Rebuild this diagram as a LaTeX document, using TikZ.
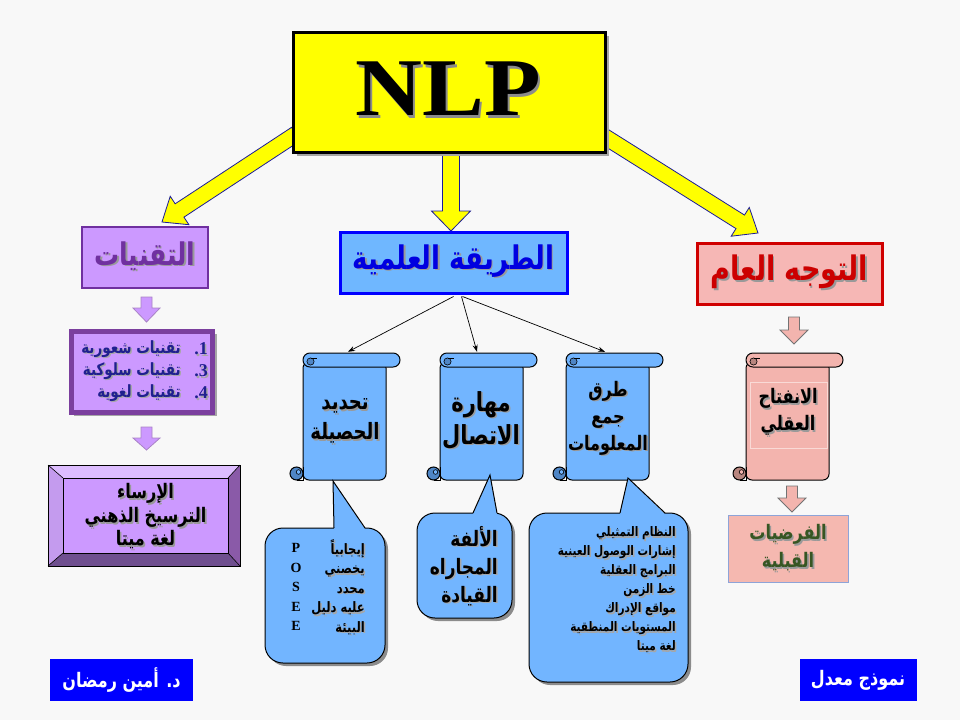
\documentclass[tikz,border=0pt]{standalone}
\usepackage{fontspec}
\setmainfont{Liberation Serif}
\newfontfamily\arabicfont[Script=Arabic]{DejaVu Sans}
\TeXXeTstate=1
\usetikzlibrary{calc,arrows.meta}
\definecolor{bg}{HTML}{F8F8F8}
\definecolor{nlpY}{HTML}{FFFF00}
\definecolor{arrowBlue}{HTML}{1A1A99}
\definecolor{purpleFill}{HTML}{CC99FF}
\definecolor{purpleDark}{HTML}{7030A0}
\definecolor{listBorder}{HTML}{7B3F9E}
\definecolor{listText}{HTML}{20208F}
\definecolor{bevTop}{HTML}{DDBDFF}
\definecolor{bevLeft}{HTML}{C49BEE}
\definecolor{bevRight}{HTML}{8A5AA8}
\definecolor{bevBottom}{HTML}{6F4F8F}
\definecolor{methodFill}{HTML}{6FB7FF}
\definecolor{methodBorder}{HTML}{0000FF}
\definecolor{methodText}{HTML}{0000E0}
\definecolor{scrollBlue}{HTML}{72B5FF}
\definecolor{curlBlue}{HTML}{4F86C6}
\definecolor{pinkFill}{HTML}{F6B7B5}
\definecolor{redBorder}{HTML}{D00000}
\definecolor{redText}{HTML}{CC0000}
\definecolor{pinkScroll}{HTML}{F3B4AE}
\definecolor{curlPink}{HTML}{B8867F}
\definecolor{lastFill}{HTML}{F5B8B0}
\definecolor{lastBorder}{HTML}{8EA4D8}
\definecolor{greenText}{HTML}{375623}
\definecolor{labelBlue}{HTML}{0000FF}
\newcommand\arr[1]{\scalebox{1}[1.25]{\beginR #1\endR}}
\newcommand\afont[2]{\arabicfont\bfseries\fontsize{#1}{#2}\selectfont}
% block arrow: A, B, half shaft, half head, head length, style
\newcommand\barrow[6]{%
  \path ($(#2)!#5!(#1)$) coordinate (bh);
  \filldraw[#6] ($(#1)!#3!90:(#2)$) -- ($(bh)!#3!90:(#2)$) -- ($(bh)!#4!90:(#2)$) -- (#2)
     -- ($(bh)!#4!-90:(#2)$) -- ($(bh)!#3!-90:(#2)$) -- ($(#1)!#3!-90:(#2)$) -- cycle;}
% shadowed text: name, position, colour, font, content
\newcommand\shtext[5]{%
  \node[text=black!40, font={#4}, align=center, inner sep=0] at ($(#2)+(1.6,1.6)$) {#5};
  \node[text=#3, font={#4}, align=center, inner sep=0] (#1) at (#2) {#5};}
% scroll: left x, fill, curl colour, name
\newcommand\scrollshape[4]{%
  \filldraw[fill=#2, draw=black, line width=1, rounded corners=6] (#1,362) rectangle ({#1+83},480);
  \filldraw[fill=#3, draw=black, line width=1] ({#1-6.5},473.5) circle (6.5);
  \filldraw[fill=#2, draw=black, line width=0.6] ({#1-4.5},472) circle (2.3);
  \draw[black, line width=1] (#1,467) -- (#1,480) -- ({#1-6.5},480);
  \filldraw[fill=#2, draw=black, line width=1, rounded corners=6.9] (#1,353) rectangle ({#1+97},367);
  \filldraw[fill=#3, draw=black, line width=0.6] ({#1+7.5},361.5) circle (3.6);
  \draw[black, line width=0.8] ({#1+7.5},357.9) -- ({#1+14},357.9);
  \node[inner sep=0, minimum width=110, minimum height=127] (#4) at ({#1+42},416.5) {};}
% callout: x1,y1,x2,y2, tail base left x, tail base right x, tip x, tip y, name
\newcommand\callout[9]{%
  \fill[black!45, rounded corners=18] ({#1+3},{#2+3}) rectangle ({#3+3},{#4+3});
  \filldraw[fill=scrollBlue, draw=black, line width=1, rounded corners=18] (#1,#2) rectangle (#3,#4);
  \fill[scrollBlue] (#5,{#2+1}) -- (#7,#8) -- (#6,{#2+1}) -- cycle;
  \draw[black, line width=1, line join=miter] (#5,#2) -- (#7,#8) -- (#6,#2);
  \node[inner sep=0, minimum width={#3-#1}, minimum height={#4-#2}] (#9) at ({(#1+#3)/2},{(#2+#4)/2}) {};}
\begin{document}
\begin{tikzpicture}[x=1pt,y=-1pt]
\fill[bg] (0,0) rectangle (960,720);
\useasboundingbox (0,0) rectangle (960,720);

% ---------- NLP and yellow arrows ----------
\coordinate (ya1) at (296,134); \coordinate (yb1) at (162,222);
\coordinate (ya2) at (451,150); \coordinate (yb2) at (451,231);
\coordinate (ya3) at (602,135); \coordinate (yb3) at (758,233);
\barrow{ya1}{yb1}{8pt}{17pt}{21pt}{fill=nlpY, draw=arrowBlue, line width=0.8}
\barrow{ya2}{yb2}{8.5pt}{19.5pt}{20pt}{fill=nlpY, draw=arrowBlue, line width=0.8}
\barrow{ya3}{yb3}{8pt}{17pt}{21pt}{fill=nlpY, draw=arrowBlue, line width=0.8}
\fill[black!35] (297,36) rectangle (609,156);
\node[draw=black, line width=3, fill=nlpY, minimum width=312, minimum height=120, inner sep=0] (nlp) at (449,92) {};
\node[text=black!45, font=\bfseries\fontsize{82}{82}\selectfont, inner sep=0] at (450.5,91.5) {\scalebox{1.13}[1]{NLP}};
\node[font=\bfseries\fontsize{82}{82}\selectfont, inner sep=0] (nlpt) at (448,89) {\scalebox{1.13}[1]{NLP}};

% ---------- headings ----------
\node[draw=purpleDark, line width=2.5, fill=purpleFill, minimum width=126, minimum height=61, inner sep=0] (tech) at (145,257.5) {};
\shtext{techt}{145,256}{purpleDark}{\afont{25}{28}}{\arr{التقنيات}}

\node[draw=methodBorder, line width=3, fill=methodFill, minimum width=227, minimum height=61, inner sep=0] (method) at (453.5,263) {};
\shtext{methodt}{453.5,261}{methodText}{\afont{26}{30}}{\arr{الطريقة العلمية}}

\node[draw=redBorder, line width=3, fill=pinkFill, minimum width=185, minimum height=61, inner sep=0] (orient) at (789.5,273.5) {};
\shtext{orientt}{789.5,272}{redText}{\afont{27}{30}}{\arr{التوجه العام}}

% ---------- left column ----------
\coordinate (la1) at (146.5,297); \coordinate (lb1) at (146.5,322);
\barrow{la1}{lb1}{5.5pt}{13.5pt}{14pt}{fill=purpleFill, draw=purpleDark!60, line width=0.8}
\fill[black!35] (74,334) rectangle (217,416);
\node[draw=listBorder, line width=5, fill=purpleFill, minimum width=141, minimum height=81, inner sep=0] (list) at (141.5,371.5) {};
\foreach \yy/\num/\txt in {349/1/تقنيات شعورية, 371/3/تقنيات سلوكية, 393/4/تقنيات لغوية}{
  \node[text=black!35, font={\afont{13.5}{14}}, anchor=east, inner sep=0] at (182.5,\yy+1.5) {\arr{\txt}};
  \node[text=listText, font={\afont{13.5}{14}}, anchor=east, inner sep=0] at (181,\yy) {\arr{\txt}};
  \node[text=black!35, font=\bfseries\fontsize{18}{18}\selectfont, anchor=east, inner sep=0] at (209.5,\yy+1.5) {.\num};
  \node[text=listText, font=\bfseries\fontsize{18}{18}\selectfont, anchor=east, inner sep=0] at (208,\yy) {.\num};
}
\coordinate (la2) at (146.5,427); \coordinate (lb2) at (146.5,450);
\barrow{la2}{lb2}{5.5pt}{13.5pt}{12pt}{fill=purpleFill, draw=purpleDark!60, line width=0.8}

% bevel box
\fill[bevTop] (48,465) -- (240,465) -- (228,478) -- (63,478) -- cycle;
\fill[bevLeft] (48,465) -- (63,478) -- (63,553) -- (48,566) -- cycle;
\fill[bevRight] (240,465) -- (240,566) -- (228,553) -- (228,478) -- cycle;
\fill[bevBottom] (48,566) -- (63,553) -- (228,553) -- (240,566) -- cycle;
\node[draw=black, line width=0.8, fill=purpleFill, minimum width=165, minimum height=75, inner sep=0] (bevel) at (145.5,515.5) {};
\draw[black, line width=0.8] (48,465) rectangle (240,566);
\draw[black, line width=0.6] (48,465) -- (63,478) (240,465) -- (228,478) (48,566) -- (63,553) (240,566) -- (228,553);
\shtext{bevelt}{145.5,516.5}{black}{\afont{16}{23.5}}{\arr{الإرساء}\\\arr{الترسيخ الذهني}\\\arr{لغة ميتا}}

% ---------- middle: scrolls ----------
\scrollshape{303}{scrollBlue}{curlBlue}{s1}
\scrollshape{440}{scrollBlue}{curlBlue}{s2}
\scrollshape{566}{scrollBlue}{curlBlue}{s3}
\draw[-{Stealth[length=7pt,width=5pt]}, line width=0.7] ($(method.south)+(0,1.5)$) -- ($(s1.north)+(3,-1)$);
\draw[-{Stealth[length=7pt,width=5pt]}, line width=0.7] ($(method.south)+(8,1.5)$) -- ($(s2.north)+(-5,-1)$);
\draw[-{Stealth[length=7pt,width=5pt]}, line width=0.7] ($(method.south)+(9,1.5)$) -- ($(s3.north)+(-3,-1)$);

\shtext{s1t}{345,421}{black}{\afont{18}{30}}{\arr{تحديد}\\\arr{الحصيلة}}
\shtext{s2t}{481,420}{black}{\afont{21}{33}}{\arr{مهارة}\\\arr{الاتصال}}
\shtext{s3t}{608,418}{black}{\afont{16}{27}}{\arr{طرق}\\\arr{جمع}\\\arr{المعلومات}}

% ---------- callouts ----------
\callout{265}{528}{385}{663}{334}{365}{333}{481}{c1}
\callout{417}{513}{512}{618}{473}{497}{490}{475}{c2}
\callout{529}{513}{688}{682}{620}{665}{628}{478}{c3}

\node[text=black!35, font={\afont{11.5}{19.5}}, align=right, anchor=east, inner sep=0] at (366.5,588.5)
  {\arr{إيجابياً}\\\arr{يخصني}\\\arr{محدد}\\\arr{عليه دليل}\\\arr{البيئة}};
\node[font={\afont{11.5}{19.5}}, align=right, anchor=east, inner sep=0] (c1t) at (365,587)
  {\arr{إيجابياً}\\\arr{يخصني}\\\arr{محدد}\\\arr{عليه دليل}\\\arr{البيئة}};
\node[font=\bfseries\fontsize{14}{19.5}\selectfont, align=center, inner sep=0] (pose) at (296,587)
  {P\\O\\S\\E\\E};

\node[text=black!35, font={\afont{17}{28}}, align=right, anchor=east, inner sep=0] at (499.5,567.5)
  {\arr{الألفة}\\\arr{المجاراه}\\\arr{القيادة}};
\node[font={\afont{17}{28}}, align=right, anchor=east, inner sep=0] (c2t) at (498,566)
  {\arr{الألفة}\\\arr{المجاراه}\\\arr{القيادة}};

\node[text=black!35, font={\afont{10.5}{19}}, align=right, anchor=east, inner sep=0] at (677.5,591.5)
  {\arr{النظام التمثيلي}\\\arr{إشارات الوصول العينية}\\\arr{البرامج العقلية}\\\arr{خط الزمن}\\\arr{مواقع الإدراك}\\\arr{المستويات المنطقية}\\\arr{لغة ميتا}};
\node[font={\afont{10.5}{19}}, align=right, anchor=east, inner sep=0] (c3t) at (676,590)
  {\arr{النظام التمثيلي}\\\arr{إشارات الوصول العينية}\\\arr{البرامج العقلية}\\\arr{خط الزمن}\\\arr{مواقع الإدراك}\\\arr{المستويات المنطقية}\\\arr{لغة ميتا}};

% ---------- right column ----------
\coordinate (ra1) at (794,317); \coordinate (rb1) at (794,344);
\barrow{ra1}{rb1}{5.5pt}{14pt}{14pt}{fill=pinkScroll, draw=black!55, line width=0.8}
\scrollshape{746}{pinkScroll}{curlPink}{s4}
\draw[pinkScroll!50!white, line width=0.6] (750,382) rectangle (827,448);
\shtext{s4t}{788,412}{black}{\afont{16}{27}}{\arr{الانفتاح}\\\arr{العقلي}}
\coordinate (ra2) at (792,486); \coordinate (rb2) at (792,512);
\barrow{ra2}{rb2}{5.5pt}{14pt}{14pt}{fill=pinkScroll, draw=black!55, line width=0.8}
\node[draw=lastBorder, line width=1, fill=lastFill, minimum width=120, minimum height=67, inner sep=0] (prior) at (788,548.5) {};
\shtext{priort}{788,548}{greenText}{\afont{16}{28}}{\arr{الفرضيات}\\\arr{القبلية}}

% ---------- bottom labels ----------
\node[fill=labelBlue, minimum width=143, minimum height=42, inner sep=0, text=white, font={\afont{16}{20}}] (author) at (121.5,680) {\arr{د. أمين رمضان}};
\node[fill=labelBlue, minimum width=117, minimum height=42, inner sep=0, text=white, font={\afont{16}{20}}] (model) at (858,680) {\arr{نموذج معدل}};
\end{tikzpicture}
\end{document}
